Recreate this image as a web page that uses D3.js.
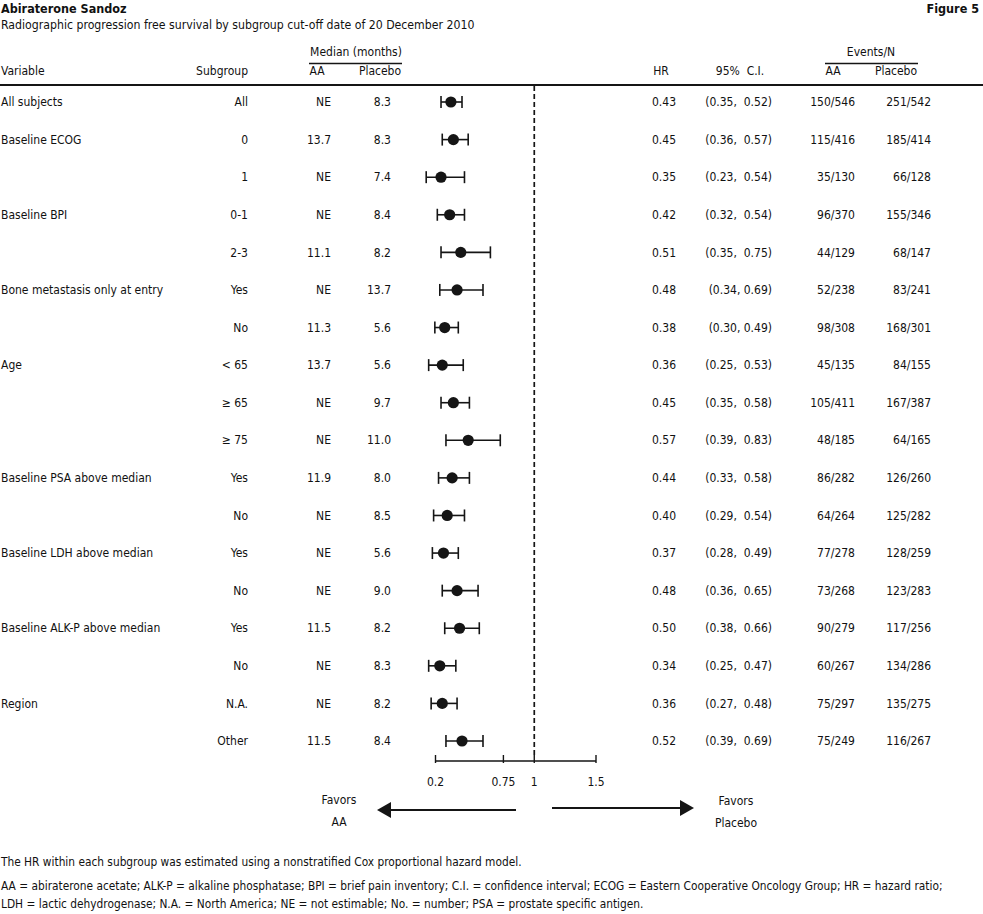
<!DOCTYPE html>
<html>
<head>
<meta charset="utf-8">
<script src="https://cdn.jsdelivr.net/npm/d3@7"></script>
<style>
  html, body { margin: 0; padding: 0; background: #fff; }
  svg text { font-family: "Liberation Sans Narrow", "Arial Narrow", "DejaVu Sans Condensed", sans-serif; fill: #111; white-space: pre; }
</style>
</head>
<body>
<svg id="chart" width="983" height="914"></svg>
<script>
const variables = ["All subjects","Baseline ECOG","","Baseline BPI","","Bone metastasis only at entry","","Age","","","Baseline PSA above median","","Baseline LDH above median","","Baseline ALK-P above median","","Region",""];
const subgroups = ["All","0","1","0-1","2-3","Yes","No","< 65","\u2265 65","\u2265 75","Yes","No","Yes","No","Yes","No","N.A.","Other"];
const medianAA = ["NE","13.7","NE","NE","11.1","NE","11.3","13.7","NE","NE","11.9","NE","NE","NE","11.5","NE","NE","11.5"];
const medianPlacebo = ["8.3","8.3","7.4","8.4","8.2","13.7","5.6","5.6","9.7","11.0","8.0","8.5","5.6","9.0","8.2","8.3","8.2","8.4"];
const hr = [0.43,0.45,0.35,0.42,0.51,0.48,0.38,0.36,0.45,0.57,0.44,0.40,0.37,0.48,0.50,0.34,0.36,0.52];
const ciLow = [0.35,0.36,0.23,0.32,0.35,0.34,0.30,0.25,0.35,0.39,0.33,0.29,0.28,0.36,0.38,0.25,0.27,0.39];
const ciHigh = [0.52,0.57,0.54,0.54,0.75,0.69,0.49,0.53,0.58,0.83,0.58,0.54,0.49,0.65,0.66,0.47,0.48,0.69];
const ciLabels = ["(0.35,  0.52)","(0.36,  0.57)","(0.23,  0.54)","(0.32,  0.54)","(0.35,  0.75)","(0.34, 0.69)","(0.30, 0.49)","(0.25,  0.53)","(0.35,  0.58)","(0.39,  0.83)","(0.33,  0.58)","(0.29,  0.54)","(0.28,  0.49)","(0.36,  0.65)","(0.38,  0.66)","(0.25,  0.47)","(0.27,  0.48)","(0.39,  0.69)"];
const eventsAA = ["150/546","115/416","35/130","96/370","44/129","52/238","98/308","45/135","105/411","48/185","86/282","64/264","77/278","73/268","90/279","60/267","75/297","75/249"];
const eventsPlacebo = ["251/542","185/414","66/128","155/346","68/147","83/241","168/301","84/155","167/387","64/165","126/260","125/282","128/259","123/283","117/256","134/286","135/275","116/267"];
const axisTicks = [0.2, 0.75, 1, 1.5];
const refValue = 1;

const svg = d3.select("#chart");
const ink = "#151515";
const fs = 12;

const rows = d3.range(hr.length);
const y = d3.scalePoint().domain(rows).range([102, 741]);
const x = d3.scaleLinear().domain([0.2, 1.5]).range([435.5, 596]);
const markerShift = -13;

// Titles
svg.append("text").attr("x", 1).attr("y", 13).attr("font-size", 12.5).attr("font-weight", "bold").text("Abiraterone Sandoz");
svg.append("text").attr("x", 979).attr("y", 13).attr("font-size", 12.5).attr("font-weight", "bold").attr("text-anchor", "end").text("Figure 5");
svg.append("text").attr("x", 1).attr("y", 29).attr("font-size", 12.2).text("Radiographic progression free survival by subgroup cut-off date of 20 December 2010");

// Header
const hdrY = 75;
svg.append("text").attr("x", 1).attr("y", hdrY).attr("font-size", fs).text("Variable");
svg.append("text").attr("x", 248).attr("y", hdrY).attr("font-size", fs).attr("text-anchor", "end").text("Subgroup");
svg.append("text").attr("x", 356).attr("y", 56).attr("font-size", fs).attr("text-anchor", "middle").text("Median (months)");
svg.append("line").attr("x1", 309).attr("x2", 402).attr("y1", 63.5).attr("y2", 63.5).attr("stroke", ink).attr("stroke-width", 1.3);
svg.append("text").attr("x", 317).attr("y", hdrY).attr("font-size", fs).attr("text-anchor", "middle").text("AA");
svg.append("text").attr("x", 380).attr("y", hdrY).attr("font-size", fs).attr("text-anchor", "middle").text("Placebo");
svg.append("text").attr("x", 661).attr("y", hdrY).attr("font-size", fs).attr("text-anchor", "middle").text("HR");
svg.append("text").attr("x", 740).attr("y", hdrY).attr("font-size", fs).attr("text-anchor", "middle").text("95%  C.I.");
svg.append("text").attr("x", 871).attr("y", 56).attr("font-size", fs).attr("text-anchor", "middle").text("Events/N");
svg.append("line").attr("x1", 825).attr("x2", 918).attr("y1", 63.5).attr("y2", 63.5).attr("stroke", ink).attr("stroke-width", 1.3);
svg.append("text").attr("x", 833).attr("y", hdrY).attr("font-size", fs).attr("text-anchor", "middle").text("AA");
svg.append("text").attr("x", 896).attr("y", hdrY).attr("font-size", fs).attr("text-anchor", "middle").text("Placebo");
svg.append("line").attr("x1", 0).attr("x2", 983).attr("y1", 85).attr("y2", 85).attr("stroke", ink).attr("stroke-width", 2);

// Row texts
const rowG = svg.append("g").selectAll("g").data(rows).join("g")
  .attr("transform", i => `translate(0,${y(i)})`);
const addCol = (xPos, anchor, arr) => rowG.append("text")
  .attr("x", xPos).attr("dy", "0.35em").attr("font-size", fs).attr("text-anchor", anchor)
  .text(i => arr[i]);
addCol(1, "start", variables);
addCol(248, "end", subgroups);
addCol(331, "end", medianAA);
addCol(391, "end", medianPlacebo);
addCol(676, "end", hr.map(v => v.toFixed(2)));
addCol(772, "end", ciLabels);
addCol(855, "end", eventsAA);
addCol(931, "end", eventsPlacebo);

// Reference dashed line
svg.append("line").attr("x1", x(refValue)).attr("x2", x(refValue)).attr("y1", 86).attr("y2", 758)
  .attr("stroke", ink).attr("stroke-width", 1.7).attr("stroke-dasharray", "5,3");

// Markers
const mk = svg.append("g").attr("transform", `translate(${markerShift},0)`);
const mg = mk.selectAll("g").data(rows).join("g").attr("transform", i => `translate(0,${y(i)})`);
mg.append("line").attr("x1", i => x(ciLow[i])).attr("x2", i => x(ciHigh[i])).attr("stroke", ink).attr("stroke-width", 1.6);
mg.append("line").attr("x1", i => x(ciLow[i])).attr("x2", i => x(ciLow[i])).attr("y1", -6).attr("y2", 6).attr("stroke", ink).attr("stroke-width", 1.6);
mg.append("line").attr("x1", i => x(ciHigh[i])).attr("x2", i => x(ciHigh[i])).attr("y1", -6).attr("y2", 6).attr("stroke", ink).attr("stroke-width", 1.6);
mg.append("circle").attr("cx", i => x(hr[i])).attr("r", 5.6).attr("fill", ink);

// Axis
const axisY = 761;
const axisG = svg.append("g").attr("transform", `translate(0,${axisY})`);
axisG.append("line").attr("x1", x(axisTicks[0])).attr("x2", x(axisTicks[axisTicks.length - 1])).attr("stroke", ink).attr("stroke-width", 1.4);
axisG.selectAll("line.tick").data(axisTicks).join("line").attr("class", "tick")
  .attr("x1", d => x(d)).attr("x2", d => x(d)).attr("y1", -6).attr("y2", 2).attr("stroke", ink).attr("stroke-width", 1.4);
axisG.selectAll("text").data(axisTicks).join("text")
  .attr("x", d => x(d)).attr("y", 25).attr("font-size", fs).attr("text-anchor", "middle").text(d => String(d));

// Arrows
const arrow = (xStart, xTip, yy, dir) => {
  const head = 14, half = 8;
  svg.append("line").attr("x1", xStart).attr("x2", xTip - dir * head + dir * 1).attr("y1", yy).attr("y2", yy).attr("stroke", ink).attr("stroke-width", 1.8);
  svg.append("path").attr("d", `M${xTip},${yy} L${xTip - dir * head},${yy - half} L${xTip - dir * head},${yy + half} Z`).attr("fill", ink);
};
arrow(516, 377, 810, -1);
arrow(552, 694, 808, 1);
svg.append("text").attr("x", 339).attr("y", 804).attr("font-size", fs).attr("text-anchor", "middle").text("Favors");
svg.append("text").attr("x", 339).attr("y", 826).attr("font-size", fs).attr("text-anchor", "middle").text("AA");
svg.append("text").attr("x", 736).attr("y", 805).attr("font-size", fs).attr("text-anchor", "middle").text("Favors");
svg.append("text").attr("x", 736).attr("y", 827).attr("font-size", fs).attr("text-anchor", "middle").text("Placebo");

// Footnotes
const fn = 11.8;
svg.append("text").attr("x", 1).attr("y", 866).attr("font-size", fn).text("The HR within each subgroup was estimated using a nonstratified Cox proportional hazard model.");
svg.append("text").attr("x", 1).attr("y", 890).attr("font-size", fn).text("AA = abiraterone acetate; ALK-P = alkaline phosphatase; BPI = brief pain inventory; C.I. = confidence interval; ECOG = Eastern Cooperative Oncology Group; HR = hazard ratio;");
svg.append("text").attr("x", 1).attr("y", 908).attr("font-size", fn).text("LDH = lactic dehydrogenase; N.A. = North America; NE = not estimable; No. = number; PSA = prostate specific antigen.");
</script>
</body>
</html>
